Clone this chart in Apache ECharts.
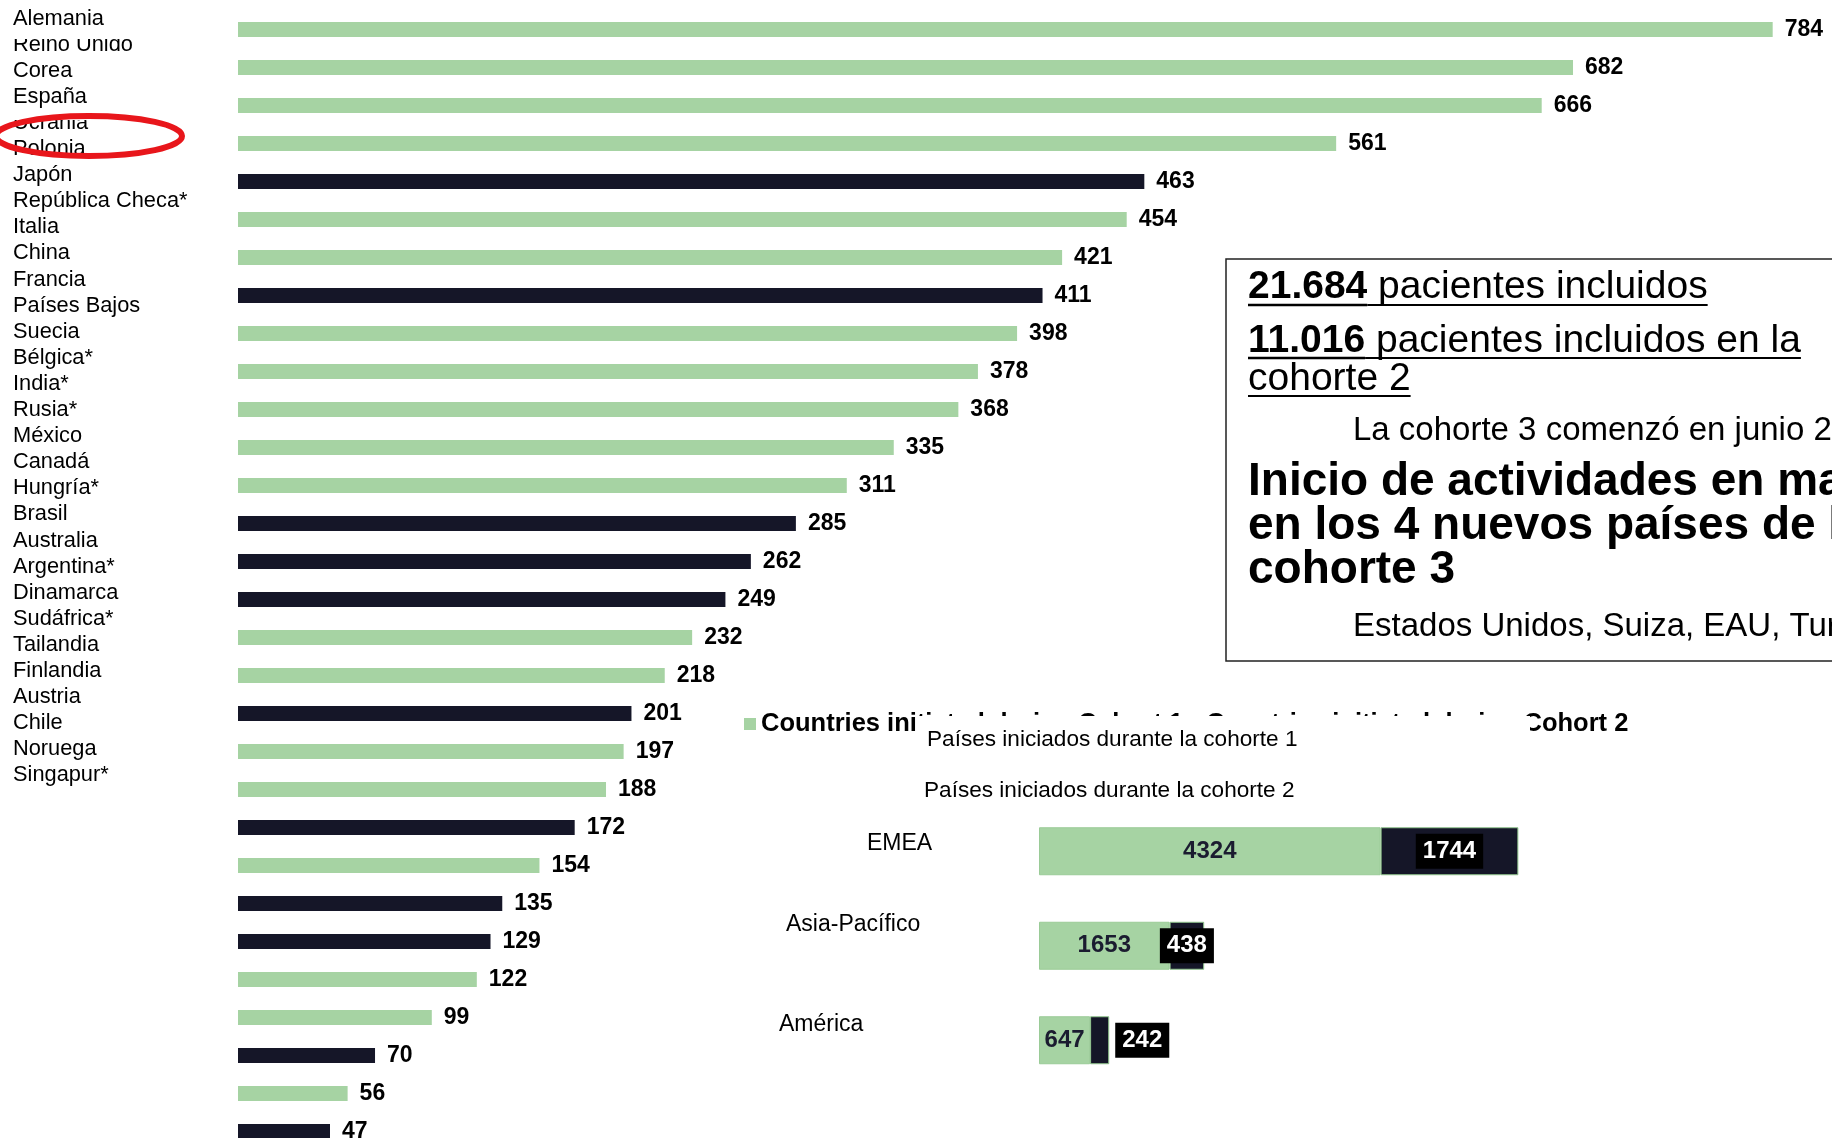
<!DOCTYPE html>
<html>
<head>
<meta charset="utf-8">
<script src="https://cdn.jsdelivr.net/npm/echarts@6/dist/echarts.min.js"></script>
<style>
html, body { margin: 0; padding: 0; background: #fff; overflow: hidden; }
/* the ranking runs slightly past the bottom edge of the page */
#chart { width: 1832px; height: 1170px; }
</style>
</head>
<body>
<div id="chart"></div>
<script>
// Patients enrolled per country, largest first
const countries = ['Alemania', 'Reino Unido', 'Corea', 'España', 'Ucrania', 'Polonia', 'Japón',
  'República Checa*', 'Italia', 'China', 'Francia', 'Países Bajos', 'Suecia', 'Bélgica*', 'India*',
  'Rusia*', 'México', 'Canadá', 'Hungría*', 'Brasil', 'Australia', 'Argentina*', 'Dinamarca',
  'Sudáfrica*', 'Tailandia', 'Finlandia', 'Austria', 'Chile', 'Noruega', 'Singapur*'];
const patients = [784, 682, 666, 561, 463, 454, 421, 411, 398, 378, 368, 335, 311, 285, 262,
  249, 232, 218, 201, 197, 188, 172, 154, 135, 129, 122, 99, 70, 56, 47];
// Cohort in which each country started recruiting
const cohort = [1, 1, 1, 1, 2, 1, 1, 2, 1, 1, 1, 1, 1, 2, 2, 2, 1, 1, 2, 1, 1, 2, 1, 2, 2, 1, 1, 2, 1, 2];
const cohortNames = ['Countries initiated during Cohort 1', 'Countries initiated during Cohort 2'];
const cohortNamesEs = ['Países iniciados durante la cohorte 1', 'Países iniciados durante la cohorte 2'];

// Patients per region, split by the cohort in which the country started
const regions = ['EMEA', 'Asia-Pacífico', 'América'];
const regionCohort1 = [4324, 1653, 647];
const regionCohort2 = [1744, 438, 242];

const GREEN = '#a6d3a3';
const NAVY = '#151628';
const SANS = '"Liberation Sans", Arial, sans-serif';

const measureCtx = document.createElement('canvas').getContext('2d');
function textWidth(font, s) { measureCtx.font = font; return measureCtx.measureText(s).width; }

function cohortSeries(c, color) {
  return {
    name: cohortNames[c - 1],
    type: 'bar',
    xAxisIndex: 0,
    yAxisIndex: 0,
    data: patients.map((v, i) => (cohort[i] === c ? v : '-')),
    barWidth: 15,
    barGap: '-100%',
    itemStyle: { color: color },
    label: {
      show: true, position: 'right', distance: 12, color: '#000',
      fontFamily: SANS, fontWeight: 'bold', fontSize: 23
    }
  };
}

// Summary box on the right
const graphics = [];
graphics.push({
  type: 'rect', z: 90,
  shape: { x: 1226, y: 259, width: 640, height: 402 },
  style: { fill: '#fff', stroke: '#222', lineWidth: 1.5 }
});
function addLine(x, y, parts, size, underline) {
  let cx = x;
  parts.forEach(p => {
    const font = (p.bold ? 'bold ' : '') + size + 'px "Liberation Sans"';
    const w = textWidth(font, p.text);
    graphics.push({
      type: 'text', x: cx, y: y, z: 100,
      style: { text: p.text, font: font, fill: '#000', align: 'left', verticalAlign: 'middle' }
    });
    if (underline) {
      graphics.push({
        type: 'line', z: 100,
        shape: { x1: cx, y1: y + underline, x2: cx + w, y2: y + underline },
        style: { stroke: '#000', lineWidth: p.bold ? 2.5 : 2 }
      });
    }
    cx += w;
  });
}
addLine(1248, 287, [{ text: '21.684', bold: true }, { text: ' pacientes incluidos' }], 39, 18);
addLine(1248, 341, [{ text: '11.016', bold: true }, { text: ' pacientes incluidos en la' }], 39, 17);
addLine(1248, 379, [{ text: 'cohorte 2' }], 39, 17);
addLine(1353, 431, [{ text: 'La cohorte 3 comenzó en junio 2022' }], 33, 0);
addLine(1248, 482, [{ text: 'Inicio de actividades en marzo', bold: true }], 46, 0);
addLine(1248, 526, [{ text: 'en los 4 nuevos países de la', bold: true }], 46, 0);
addLine(1248, 570, [{ text: 'cohorte 3', bold: true }], 46, 0);
addLine(1353, 627, [{ text: 'Estados Unidos, Suiza, EAU, Turquía' }], 33, 0);

// Panel over the English legend with the Spanish captions
graphics.push({
  type: 'rect', z: 100,
  shape: { x: 916, y: 716, width: 614, height: 90 },
  style: { fill: '#fff' }
});
graphics.push({
  type: 'text', x: 927, y: 740, z: 101,
  style: { text: cohortNamesEs[0], font: '22.6px ' + SANS, fill: '#000', verticalAlign: 'middle' }
});
graphics.push({
  type: 'text', x: 924, y: 791, z: 101,
  style: { text: cohortNamesEs[1], font: '22.6px ' + SANS, fill: '#000', verticalAlign: 'middle' }
});

// Country name column: clipped entries and the red highlight
graphics.push({ type: 'rect', z: 100, shape: { x: 0, y: 27, width: 150, height: 12 }, style: { fill: '#fff' } });
graphics.push({ type: 'rect', z: 100, shape: { x: 0, y: 110, width: 120, height: 10 }, style: { fill: '#fff' } });
graphics.push({
  type: 'ellipse', z: 101,
  shape: { cx: 89, cy: 136, rx: 93, ry: 20 },
  style: { fill: 'none', stroke: '#e8161b', lineWidth: 6 }
});

const regionLabelRich = {
  r0: { padding: [0, 0, 16, 88] },
  r1: { padding: [0, 0, 42, 7] },
  r2: { padding: [0, 0, 32, 0] }
};

const option = {
  animation: false,
  backgroundColor: '#fff',
  legend: {
    left: 744, top: 711, padding: 0,
    icon: 'rect', itemWidth: 12, itemHeight: 12, itemGap: 6,
    selectedMode: false,
    textStyle: { fontFamily: SANS, fontWeight: 'bold', fontSize: 25.5, color: '#000', lineHeight: 26 },
    data: [
      { name: cohortNames[0] },
      { name: cohortNames[1], itemStyle: { color: GREEN } }
    ]
  },
  grid: [
    { left: 238, top: 10.5, width: 1566, height: 1140 },
    { left: 13, top: 5.5, width: 1, height: 783 },
    { left: 1039, top: 804, width: 632, height: 283.5 }
  ],
  xAxis: [
    { type: 'value', gridIndex: 0, min: 0, max: 800, show: false },
    { type: 'value', gridIndex: 1, min: 0, max: 1, show: false },
    { type: 'value', gridIndex: 2, min: 0, max: 8000, show: false }
  ],
  yAxis: [
    { type: 'category', gridIndex: 0, data: countries, inverse: true, show: false },
    {
      type: 'category', gridIndex: 1, data: countries, inverse: true,
      axisLine: { show: false }, axisTick: { show: false }, splitLine: { show: false },
      axisLabel: { interval: 0, align: 'left', margin: 0, fontFamily: SANS, fontSize: 21.8, color: '#000' }
    },
    {
      type: 'category', gridIndex: 2, data: regions, inverse: true,
      axisLine: { show: false }, axisTick: { show: false }, splitLine: { show: false },
      axisLabel: {
        interval: 0, align: 'left', margin: 260,
        fontFamily: SANS, fontSize: 23, color: '#000',
        formatter: (v, i) => '{r' + i + '|' + v + '}',
        rich: regionLabelRich
      }
    }
  ],
  series: [
    cohortSeries(1, GREEN),
    cohortSeries(2, NAVY),
    {
      name: cohortNames[0] + ' ',
      type: 'bar', xAxisIndex: 2, yAxisIndex: 2, stack: 'region',
      barWidth: 48,
      data: regionCohort1,
      itemStyle: { color: GREEN, borderColor: '#9acb97', borderWidth: 1 },
      label: {
        show: true, position: 'inside', color: '#1b1c30',
        fontFamily: SANS, fontWeight: 'bold', fontSize: 24
      }
    },
    {
      name: cohortNames[1] + ' ',
      type: 'bar', xAxisIndex: 2, yAxisIndex: 2, stack: 'region',
      barWidth: 48,
      data: regionCohort2.map((v, i) => ({
        value: v,
        label: i === 2 ? { position: 'right', distance: 6 } : { position: 'inside' }
      })),
      itemStyle: { color: NAVY, borderColor: '#8fc48c', borderWidth: 1 },
      label: {
        show: true, color: '#fff', backgroundColor: '#000', padding: [6, 7, 5, 7],
        fontFamily: SANS, fontWeight: 'bold', fontSize: 24
      }
    }
  ],
  graphic: graphics
};

const chart = echarts.init(document.getElementById('chart'));
chart.setOption(option);
</script>
</body>
</html>
